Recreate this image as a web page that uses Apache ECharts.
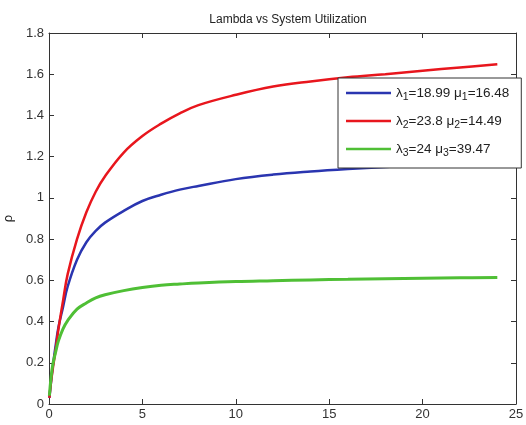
<!DOCTYPE html>
<html>
<head>
<meta charset="utf-8">
<script src="https://cdn.jsdelivr.net/npm/echarts@6/dist/echarts.min.js"></script>
<style>
  html, body { margin: 0; padding: 0; background: #fff; }
  #chart { width: 526px; height: 425px; }
</style>
</head>
<body>
<div id="chart"></div>
<script>
// x positions where the curves were read
var xs = [0.02, 0.1, 0.2, 0.35, 0.5, 0.75, 1, 1.5, 2, 2.5, 3, 4, 5, 6, 7, 8, 10, 12, 14, 16, 18, 20, 22, 24];

// rho
var rho1 = [0.03, 0.1, 0.18, 0.28, 0.37, 0.47, 0.57, 0.7, 0.785, 0.84, 0.88, 0.937, 0.985, 1.015, 1.04, 1.058, 1.091, 1.113, 1.128, 1.14, 1.15, 1.158, 1.165, 1.172];
var rho2 = [0.03, 0.1, 0.17, 0.26, 0.36, 0.5, 0.63, 0.8, 0.93, 1.03, 1.105, 1.22, 1.30, 1.36, 1.41, 1.45, 1.50, 1.54, 1.565, 1.585, 1.60, 1.617, 1.633, 1.648];
var rho3 = [0.04, 0.12, 0.19, 0.25, 0.305, 0.365, 0.405, 0.46, 0.49, 0.515, 0.53, 0.55, 0.565, 0.576, 0.582, 0.587, 0.594, 0.598, 0.602, 0.605, 0.608, 0.61, 0.612, 0.614];

var lambdas = ['18.99', '23.8', '24'];
var mus = ['16.48', '14.49', '39.47'];
var names = ['λ1=18.99 μ1=16.48', 'λ2=23.8 μ2=14.49', 'λ3=24 μ3=39.47'];
var colors = ['#2a35b0', '#e8161d', '#4fbf35'];

function pairs(ys) {
  return xs.map(function (x, i) { return [x, ys[i]]; });
}

var chart = echarts.init(document.getElementById('chart'));

var axisStyle = { color: '#333', width: 1 };

function frameAxis(extra) {
  // mirrored box axis, no labels
  return Object.assign({
    type: 'value',
    axisLine: { show: true, onZero: false, lineStyle: axisStyle },
    axisTick: { show: true, inside: true, length: 5, lineStyle: axisStyle },
    axisLabel: { show: false },
    splitLine: { show: false }
  }, extra);
}

chart.setOption({
  animation: false,
  title: {
    text: 'Lambda vs System Utilization',
    left: 283,
    textAlign: 'center',
    top: 9,
    textStyle: { fontFamily: 'Liberation Sans', fontSize: 12, fontWeight: 'normal', color: '#222' }
  },
  grid: { left: 49, right: 10, top: 33, bottom: 21, outerBoundsMode: 'none' },
  legend: {
    orient: 'vertical',
    left: 338,
    top: 78,
    padding: [8, 12, 9, 8],
    icon: 'rect',
    itemWidth: 45,
    itemHeight: 2.5,
    itemGap: 11,
    backgroundColor: '#fff',
    borderColor: '#333',
    borderWidth: 1,
    data: names,
    formatter: function (name) {
      var i = names.indexOf(name);
      return '{n|λ}{s|' + (i + 1) + '}{n|=' + lambdas[i] + ' μ}{s|' + (i + 1) + '}{n|=' + mus[i] + '}';
    },
    textStyle: {
      rich: {
        n: { fontFamily: 'Liberation Sans', fontSize: 13.5, color: '#222' },
        s: { fontFamily: 'Liberation Sans', fontSize: 10.5, color: '#222', padding: [9, 0, 0, 0] }
      }
    }
  },
  xAxis: [
    {
      type: 'value', min: 0, max: 25, interval: 5,
      axisLine: { show: true, onZero: false, lineStyle: axisStyle },
      axisTick: { show: true, inside: true, length: 5, lineStyle: axisStyle },
      axisLabel: { margin: 4, fontFamily: 'Liberation Sans', fontSize: 13, color: '#333' },
      splitLine: { show: false }
    },
    frameAxis({ min: 0, max: 25, interval: 5, position: 'top' })
  ],
  yAxis: [
    {
      type: 'value', min: 0, max: 1.8, interval: 0.2,
      name: 'ρ', nameLocation: 'middle', nameGap: 30, nameRotate: 90,
      nameTextStyle: { fontFamily: 'Liberation Sans', fontSize: 13, color: '#222' },
      axisLine: { show: true, onZero: false, lineStyle: axisStyle },
      axisTick: { show: true, inside: true, length: 5, lineStyle: axisStyle },
      axisLabel: { margin: 5, fontFamily: 'Liberation Sans', fontSize: 13, color: '#333' },
      splitLine: { show: false }
    },
    frameAxis({ min: 0, max: 1.8, interval: 0.2, position: 'right' })
  ],
  series: [
    { name: names[0], type: 'line', data: pairs(rho1), symbol: 'none', smooth: 0.4,
      color: colors[0], lineStyle: { width: 2.5, color: colors[0] } },
    { name: names[1], type: 'line', data: pairs(rho2), symbol: 'none', smooth: 0.4,
      color: colors[1], lineStyle: { width: 2.5, color: colors[1] } },
    { name: names[2], type: 'line', data: pairs(rho3), symbol: 'none', smooth: 0.4,
      color: colors[2], lineStyle: { width: 3, color: colors[2] } }
  ]
});
</script>
</body>
</html>
